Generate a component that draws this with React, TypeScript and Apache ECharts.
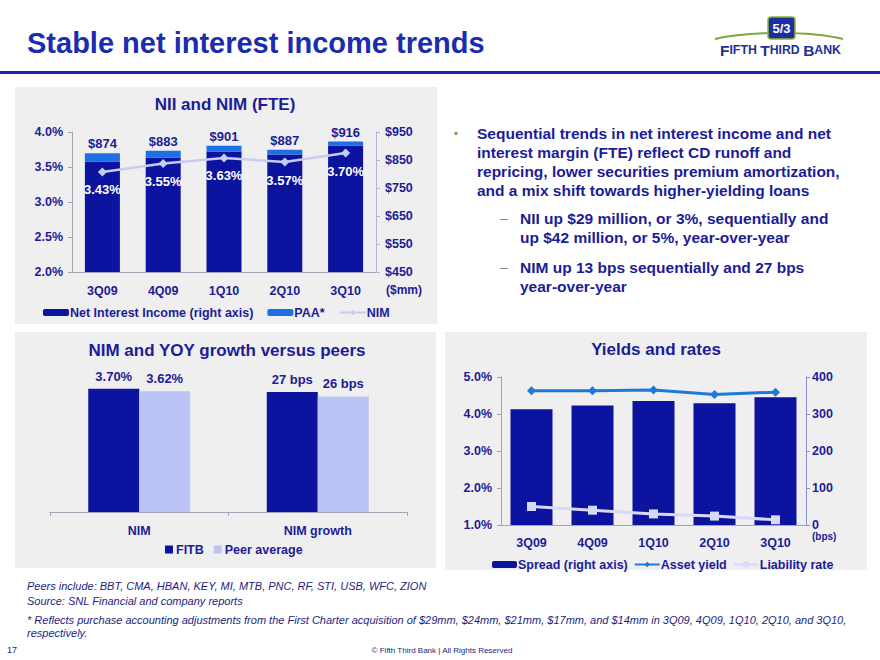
import React, { useEffect, useRef } from "react";
import * as echarts from "echarts";

// ---- data ----
const quarters = ["3Q09", "4Q09", "1Q10", "2Q10", "3Q10"];
const niiCore = [845, 859, 880, 870, 902]; // $mm, excl. PAA
const paa = [29, 24, 21, 17, 14]; // $mm
const nimPct = [3.43, 3.55, 3.63, 3.57, 3.7];
const niiTicks = [450, 550, 650, 750, 850, 950];

const peerCats = ["NIM", "NIM growth"];
const fitbValues = [3.7, 27];
const peerValues = [3.62, 26];

const spreadBps = [313, 323, 335, 329, 345];
const assetYield = [4.63, 4.63, 4.65, 4.53, 4.59];
const liabilityRate = [1.5, 1.4, 1.3, 1.24, 1.14];

const FONT = "'Liberation Sans', Arial, sans-serif";
const NAVY = "#1c1c96";
const DARK = "#0c139e";
const PAA_C = "#1f6fe4";
const LAV = "#c9ccf2";
const ASSET = "#1e7ad8";
const LIAB = "#d6d9f8";
const PANEL = "#efefef";

const lbl = (size = 12) => ({ color: NAVY, fontWeight: "bold" as const, fontSize: size, fontFamily: FONT });

export default function App() {
  const ref = useRef<HTMLDivElement>(null);
  useEffect(() => {
    document.body.style.margin = "0";
    const chart = echarts.init(ref.current!, null, { renderer: "svg" });
    const totals = niiCore.map((v, i) => v + paa[i]);

    const bulletLines = [
      "Sequential trends in net interest income and net",
      "interest margin (FTE) reflect CD runoff and",
      "repricing, lower securities premium amortization,",
      "and a mix shift towards higher-yielding loans",
    ];
    const sub1 = ["NII up $29 million, or 3%, sequentially and", "up $42 million, or 5%, year-over-year"];
    const sub2 = ["NIM up 13 bps sequentially and 27 bps", "year-over-year"];
    const bodyStyle = { fill: NAVY, font: `bold 15.5px ${FONT}`, textVerticalAlign: "middle" };

    const graphics: any[] = [
      { type: "rect", z: -10, shape: { x: 15, y: 87, width: 422, height: 237 }, style: { fill: PANEL } },
      { type: "rect", z: -10, shape: { x: 15, y: 332, width: 421, height: 236 }, style: { fill: PANEL } },
      { type: "rect", z: -10, shape: { x: 445, y: 332, width: 422, height: 238 }, style: { fill: PANEL } },
      { type: "rect", shape: { x: 0, y: 71, width: 880, height: 3 }, style: { fill: "#1426b8" } },
      { type: "text", x: 27, y: 43, style: { text: "Stable net interest income trends", fill: "#1a2cb0", font: `bold 29px ${FONT}`, textVerticalAlign: "middle" } },
      // logo
      { type: "bezierCurve", shape: { x1: 715, y1: 39, x2: 843, y2: 39, cpx1: 748, cpy1: 31, cpx2: 810, cpy2: 31 }, style: { stroke: "#7ea83a", lineWidth: 2, fill: null } },
      { type: "rect", shape: { x: 768, y: 17, width: 27, height: 22, r: 3 }, style: { fill: "#1d2e9e", stroke: "#8ab43c", lineWidth: 1.5 } },
      { type: "text", x: 781.5, y: 28.5, style: { text: "5/3", fill: "#ffffff", font: `bold 13px ${FONT}`, textAlign: "center", textVerticalAlign: "middle" } },
      {
        type: "text", x: 720, y: 50,
        style: {
          text: "{b|F}{s|IFTH }{b|T}{s|HIRD }{b|B}{s|ANK}",
          textVerticalAlign: "middle",
          rich: {
            b: { fontSize: 15.5, fontWeight: "bold", fill: "#1e2f96", fontFamily: FONT },
            s: { fontSize: 12.3, fontWeight: "bold", fill: "#1e2f96", fontFamily: FONT },
          },
        },
      },
      // chart titles
      { type: "text", x: 225, y: 104, style: { text: "NII and NIM (FTE)", fill: NAVY, font: `bold 17px ${FONT}`, textAlign: "center", textVerticalAlign: "middle" } },
      { type: "text", x: 227, y: 350, style: { text: "NIM and YOY growth versus peers", fill: NAVY, font: `bold 17px ${FONT}`, textAlign: "center", textVerticalAlign: "middle" } },
      { type: "text", x: 656, y: 349, style: { text: "Yields and rates", fill: NAVY, font: `bold 17px ${FONT}`, textAlign: "center", textVerticalAlign: "middle" } },
      { type: "text", x: 386, y: 290, style: { text: "($mm)", fill: NAVY, font: `bold 12px ${FONT}`, textVerticalAlign: "middle" } },
      { type: "text", x: 812, y: 536, style: { text: "(bps)", fill: NAVY, font: `bold 10px ${FONT}`, textVerticalAlign: "middle" } },
      // bullets
      { type: "text", x: 454, y: 133, style: { text: "•", fill: "#6f9a3a", font: `bold 11px ${FONT}`, textVerticalAlign: "middle" } },
      ...bulletLines.map((t, i) => ({ type: "text", x: 477, y: 133 + i * 19, style: { ...bodyStyle, text: t } })),
      { type: "text", x: 500, y: 218, style: { text: "–", fill: "#888888", font: `14px ${FONT}`, textVerticalAlign: "middle" } },
      ...sub1.map((t, i) => ({ type: "text", x: 520, y: 218 + i * 19.5, style: { ...bodyStyle, text: t } })),
      { type: "text", x: 500, y: 267, style: { text: "–", fill: "#888888", font: `14px ${FONT}`, textVerticalAlign: "middle" } },
      ...sub2.map((t, i) => ({ type: "text", x: 520, y: 267 + i * 19.5, style: { ...bodyStyle, text: t } })),
      // footer
      { type: "text", x: 27, y: 586, style: { text: "Peers include: BBT, CMA, HBAN, KEY, MI, MTB, PNC, RF, STI, USB, WFC, ZION", fill: "#1e1e80", font: `italic 11px ${FONT}`, textVerticalAlign: "middle" } },
      { type: "text", x: 27, y: 601, style: { text: "Source: SNL Financial and company reports", fill: "#1e1e80", font: `italic 11px ${FONT}`, textVerticalAlign: "middle" } },
      { type: "text", x: 27, y: 620, style: { text: "* Reflects purchase accounting adjustments from the First Charter acquisition of $29mm, $24mm, $21mm, $17mm, and $14mm in 3Q09, 4Q09, 1Q10, 2Q10, and 3Q10,", fill: "#1e1e80", font: `italic 11px ${FONT}`, textVerticalAlign: "middle" } },
      { type: "text", x: 27, y: 633, style: { text: "respectively.", fill: "#1e1e80", font: `italic 11px ${FONT}`, textVerticalAlign: "middle" } },
      { type: "text", x: 7, y: 650, style: { text: "17", fill: "#1e1e80", font: `9px ${FONT}`, textVerticalAlign: "middle" } },
      { type: "text", x: 442, y: 650, style: { text: "© Fifth Third Bank | All Rights Reserved", fill: "#1e1e80", font: `8px ${FONT}`, textAlign: "center", textVerticalAlign: "middle" } },
    ];

    const axisLineGray = { show: true, lineStyle: { color: "#a4a4b4", width: 1 } };

    chart.setOption({
      animation: false,
      backgroundColor: "#ffffff",
      textStyle: { fontFamily: FONT },
      graphic: { elements: graphics },
      grid: [
        { left: 72, top: 132, width: 304, height: 140 },
        { left: 50, top: 372, width: 178.5, height: 140 },
        { left: 228.5, top: 372, width: 178.5, height: 140 },
        { left: 501, top: 377, width: 305, height: 148 },
      ],
      xAxis: [
        { type: "category", gridIndex: 0, data: quarters, axisLine: axisLineGray, axisTick: { show: false }, axisLabel: { ...lbl(12.5), margin: 12 } },
        { type: "category", gridIndex: 1, data: [peerCats[0]], axisLine: axisLineGray, axisTick: { show: true, length: 4, lineStyle: { color: "#a4a4b4" } }, axisLabel: { ...lbl(12.5), margin: 12 } },
        { type: "category", gridIndex: 2, data: [peerCats[1]], axisLine: axisLineGray, axisTick: { show: true, length: 4, lineStyle: { color: "#a4a4b4" } }, axisLabel: { ...lbl(12.5), margin: 12 } },
        { type: "category", gridIndex: 3, data: quarters, axisLine: axisLineGray, axisTick: { show: false }, axisLabel: { ...lbl(12.5), margin: 11 } },
      ],
      yAxis: [
        {
          type: "value", gridIndex: 0, min: 2, max: 4, interval: 0.5, position: "left",
          axisLine: axisLineGray, axisTick: { show: true, length: 4, lineStyle: { color: "#a4a4b4" } }, splitLine: { show: false },
          axisLabel: { ...lbl(12.5), margin: 9, formatter: (v: number) => v.toFixed(1) + "%" },
        },
        {
          type: "value", gridIndex: 0, min: 450, max: 950, position: "right",
          axisLine: { show: true, lineStyle: { color: "#b4b4d4" } },
          axisTick: { show: true, length: 4, customValues: niiTicks, lineStyle: { color: "#b4b4d4" } },
          splitLine: { show: false },
          axisLabel: { ...lbl(12.5), margin: 9, customValues: niiTicks, formatter: (v: number) => "$" + v },
        },
        { type: "value", gridIndex: 1, min: 0, max: 4.2, show: false },
        { type: "value", gridIndex: 2, min: 0, max: 31.5, show: false },
        {
          type: "value", gridIndex: 3, min: 1, max: 5, interval: 1, position: "left",
          axisLine: axisLineGray, axisTick: { show: true, length: 4, lineStyle: { color: "#a4a4b4" } }, splitLine: { show: false },
          axisLabel: { ...lbl(12.5), margin: 9, formatter: (v: number) => v.toFixed(1) + "%" },
        },
        {
          type: "value", gridIndex: 3, min: 0, max: 400, interval: 100, position: "right",
          axisLine: { show: true, lineStyle: { color: "#8c8cd0" } }, axisTick: { show: true, length: 4, lineStyle: { color: "#8c8cd0" } }, splitLine: { show: false },
          axisLabel: { ...lbl(12.5), margin: 6 },
        },
      ],
      legend: [
        {
          data: ["Net Interest Income (right axis)", "PAA*", "NIM"], left: 38, top: 301, itemWidth: 26, itemHeight: 7, itemGap: 14,
          textStyle: { ...lbl(12.5), padding: [0, 0, 0, -4] },
        },
        {
          data: [{ name: "FITB", icon: "rect" }, { name: "Peer average", icon: "rect" }], left: 160, top: 538, itemWidth: 8, itemHeight: 8, itemGap: 10,
          textStyle: { ...lbl(12.5), padding: [0, 0, 0, -2] },
        },
        {
          data: ["Spread (right axis)", "Asset yield", "Liability rate"], left: 487, top: 553, itemWidth: 25, itemHeight: 7, itemGap: 6,
          textStyle: { ...lbl(12.5), padding: [0, 0, 0, -4] },
        },
      ],
      series: [
        {
          name: "Net Interest Income (right axis)", type: "bar", xAxisIndex: 0, yAxisIndex: 1, stack: "nii",
          data: niiCore, barWidth: 35, itemStyle: { color: DARK },
        },
        {
          name: "PAA*", type: "bar", xAxisIndex: 0, yAxisIndex: 1, stack: "nii", data: paa, barWidth: 35,
          itemStyle: { color: PAA_C },
          label: { show: true, position: "top", distance: 3, ...lbl(13), formatter: (p: any) => "$" + totals[p.dataIndex] },
        },
        {
          name: "NIM", type: "line", xAxisIndex: 0, yAxisIndex: 0, data: nimPct, symbol: "diamond", symbolSize: 9,
          lineStyle: { color: LAV, width: 2.5 }, itemStyle: { color: LAV },
          label: { show: true, position: "bottom", distance: 7, color: "#ffffff", fontWeight: "bold", fontSize: 13, fontFamily: FONT, formatter: (p: any) => p.value.toFixed(2) + "%" },
        },
        {
          name: "FITB", type: "bar", xAxisIndex: 1, yAxisIndex: 2, data: [fitbValues[0]], barWidth: 51, barGap: "0%",
          itemStyle: { color: DARK }, label: { show: true, position: "top", distance: 6, ...lbl(13), formatter: (p: any) => p.value.toFixed(2) + "%" },
        },
        {
          name: "Peer average", type: "bar", xAxisIndex: 1, yAxisIndex: 2, data: [peerValues[0]], barWidth: 51, barGap: "0%",
          itemStyle: { color: "#bcc4f6" }, label: { show: true, position: "top", distance: 6, ...lbl(13), formatter: (p: any) => p.value.toFixed(2) + "%" },
        },
        {
          name: "FITB", type: "bar", xAxisIndex: 2, yAxisIndex: 3, data: [fitbValues[1]], barWidth: 51, barGap: "0%",
          itemStyle: { color: DARK }, label: { show: true, position: "top", distance: 6, ...lbl(13), formatter: (p: any) => p.value + " bps" },
        },
        {
          name: "Peer average", type: "bar", xAxisIndex: 2, yAxisIndex: 3, data: [peerValues[1]], barWidth: 51, barGap: "0%",
          itemStyle: { color: "#bcc4f6" }, label: { show: true, position: "top", distance: 6, ...lbl(13), formatter: (p: any) => p.value + " bps" },
        },
        {
          name: "Spread (right axis)", type: "bar", xAxisIndex: 3, yAxisIndex: 5, data: spreadBps, barWidth: 42, itemStyle: { color: DARK },
        },
        {
          name: "Asset yield", type: "line", xAxisIndex: 3, yAxisIndex: 4, data: assetYield, symbol: "diamond", symbolSize: 9,
          lineStyle: { color: ASSET, width: 3 }, itemStyle: { color: ASSET },
        },
        {
          name: "Liability rate", type: "line", xAxisIndex: 3, yAxisIndex: 4, data: liabilityRate, symbol: "rect", symbolSize: 9,
          lineStyle: { color: LIAB, width: 3 }, itemStyle: { color: LIAB },
        },
      ],
    });
    return () => chart.dispose();
  }, []);
  return <div ref={ref} style={{ width: 880, height: 660 }} />;
}
